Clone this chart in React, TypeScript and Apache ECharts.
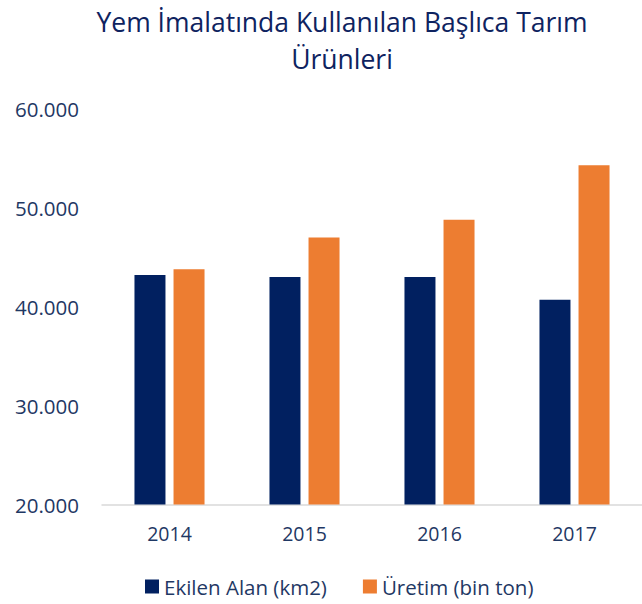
import React, { useEffect, useRef } from "react";
import * as echarts from "echarts";

const categories = ["2014", "2015", "2016", "2017"];
const ekilenAlan = [43200, 43000, 43000, 40700];
const uretim = [43800, 47000, 48800, 54300];
const seriesNames = ["Ekilen Alan (km2)", "Üretim (bin ton)"];
const titleLines = ["Yem İmalatında Kullanılan Başlıca Tarım", "Ürünleri"];

const FONT = "'Open Sans', 'Noto Sans', sans-serif";

export default function App() {
  const ref = useRef<HTMLDivElement>(null);
  useEffect(() => {
    document.body.style.margin = "0";
    const chart = echarts.init(ref.current!, null, { renderer: "svg" });
    chart.setOption({
      animation: false,
      title: {
        text: titleLines.join("\n"),
        left: 337,
        textAlign: "center",
        top: -2,
        textStyle: {
          fontFamily: FONT,
          fontSize: 26.5,
          fontWeight: "normal",
          color: "#0E2360",
          lineHeight: 37,
        },
      },
      legend: {
        bottom: 2,
        left: 140,
        itemWidth: 14,
        itemHeight: 14,
        itemGap: 36,
        icon: "rect",
        textStyle: { fontFamily: FONT, fontSize: 20.5, color: "#1F3864" },
        data: seriesNames,
      },
      grid: { left: 102, width: 548, top: 109, bottom: 99.5, containLabel: false },
      xAxis: {
        type: "category",
        data: categories,
        axisLine: { lineStyle: { color: "#D9D9D9", width: 1.5 } },
        axisTick: { show: false },
        axisLabel: { fontFamily: FONT, fontSize: 19.5, color: "#1F3864", margin: 19 },
      },
      yAxis: {
        type: "value",
        min: 20000,
        max: 60000,
        interval: 10000,
        splitLine: { show: false },
        axisLine: { show: false },
        axisTick: { show: false },
        axisLabel: {
          fontFamily: FONT,
          fontSize: 20.5,
          color: "#1F3864",
          margin: 23,
          formatter: (v: number) => (v / 1000).toFixed(3),
        },
      },
      series: [
        {
          name: seriesNames[0],
          type: "bar",
          data: ekilenAlan,
          barWidth: 31,
          barGap: "26%",
          itemStyle: { color: "#012060" },
        },
        {
          name: seriesNames[1],
          type: "bar",
          data: uretim,
          barWidth: 31,
          barGap: "26%",
          itemStyle: { color: "#ED7D31" },
        },
      ],
    });
    return () => chart.dispose();
  }, []);
  return <div ref={ref} style={{ width: 642, height: 604 }} />;
}
